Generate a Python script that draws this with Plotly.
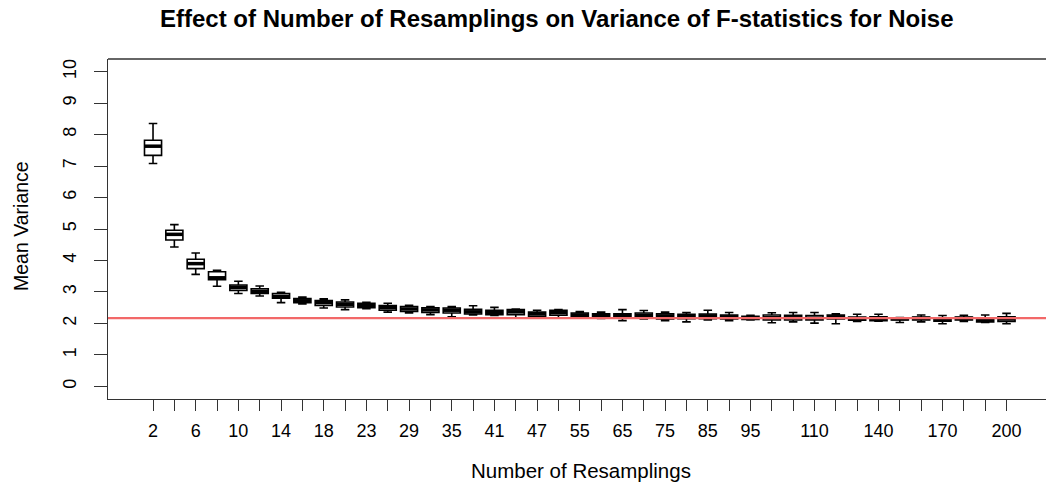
import plotly.graph_objects as go

# ---------------- data ----------------
resamplings = [2, 4, 6, 8, 10, 12, 14, 16, 18, 20,
               23, 26, 29, 32, 35, 38, 41, 44, 47, 50,
               55, 60, 65, 70, 75, 80, 85, 90, 95, 100,
               105, 110, 120, 130, 140, 150, 160, 170, 180, 190, 200]
shown_labels = [2, 6, 10, 14, 18, 23, 29, 35, 41, 47, 55, 65, 75, 85, 95, 110, 140, 170, 200]

whisker_low = [7.08, 4.43, 3.56, 3.18, 2.95, 2.87, 2.66, 2.62, 2.49, 2.44,
               2.47, 2.36, 2.33, 2.28, 2.21, 2.27, 2.25, 2.17, 2.18, 2.17,
               2.17, 2.16, 2.09, 2.14, 2.09, 2.05, 2.11, 2.09, 2.11, 2.02,
               2.05, 2.01, 1.99, 2.06, 2.07, 2.03, 2.05, 1.99, 2.06, 2.03, 1.99]
q1 = [7.34, 4.65, 3.74, 3.39, 3.05, 2.95, 2.80, 2.66, 2.57, 2.52,
      2.50, 2.42, 2.38, 2.35, 2.33, 2.30, 2.28, 2.28, 2.22, 2.26,
      2.21, 2.19, 2.17, 2.18, 2.14, 2.15, 2.15, 2.14, 2.13, 2.11,
      2.11, 2.11, 2.14, 2.10, 2.09, 2.11, 2.11, 2.07, 2.11, 2.05, 2.06]
median = [7.63, 4.83, 3.90, 3.45, 3.15, 3.02, 2.86, 2.72, 2.66, 2.61,
          2.57, 2.50, 2.46, 2.43, 2.42, 2.37, 2.34, 2.37, 2.30, 2.34,
          2.27, 2.26, 2.25, 2.26, 2.24, 2.22, 2.24, 2.21, 2.17, 2.18,
          2.18, 2.17, 2.21, 2.15, 2.15, 2.15, 2.16, 2.13, 2.16, 2.11, 2.14]
q3 = [7.82, 4.96, 4.04, 3.64, 3.22, 3.10, 2.95, 2.79, 2.73, 2.68,
      2.64, 2.57, 2.54, 2.50, 2.49, 2.45, 2.42, 2.44, 2.36, 2.42,
      2.33, 2.31, 2.31, 2.33, 2.31, 2.29, 2.30, 2.27, 2.23, 2.27,
      2.26, 2.25, 2.27, 2.20, 2.21, 2.18, 2.20, 2.18, 2.20, 2.18, 2.21]
whisker_high = [8.35, 5.14, 4.24, 3.69, 3.34, 3.19, 2.99, 2.84, 2.78, 2.75,
                2.67, 2.64, 2.58, 2.54, 2.54, 2.56, 2.51, 2.46, 2.42, 2.44,
                2.38, 2.36, 2.44, 2.41, 2.36, 2.35, 2.42, 2.35, 2.26, 2.34,
                2.35, 2.35, 2.31, 2.29, 2.29, 2.19, 2.27, 2.25, 2.26, 2.27, 2.32]
reference_level = 2.17

title_text = "Effect of Number of Resamplings on Variance of F-statistics for Noise"
x_title = "Number of Resamplings"
y_title = "Mean Variance"

# ---------------- figure ----------------
W, H = 1046, 483
ML, MR, MT, MB = 108, 0, 59, 84
FONT = "Liberation Sans, Arial, Helvetica, sans-serif"

pos = list(range(len(resamplings)))
ticktext = [str(v) if v in shown_labels else "" for v in resamplings]

fig = go.Figure()
fig.add_trace(go.Box(
    x=pos, q1=q1, median=median, q3=q3,
    lowerfence=whisker_low, upperfence=whisker_high,
    width=0.8, whiskerwidth=0.5, boxpoints=False,
    fillcolor="white", line=dict(color="black", width=1.6),
    showlegend=False, hoverinfo="skip",
))

# thick median bars (R style)
mx, my = [], []
for p, m in zip(pos, median):
    mx += [p - 0.4, p + 0.4, None]
    my += [m, m, None]
fig.add_trace(go.Scatter(x=mx, y=my, mode="lines",
                         line=dict(color="black", width=3.5),
                         showlegend=False, hoverinfo="skip"))

# horizontal reference line
fig.add_shape(type="line", xref="paper", x0=0, x1=1, yref="y",
              y0=reference_level, y1=reference_level,
              line=dict(color="#F26868", width=2.4), layer="above")
# top frame line
fig.add_shape(type="line", xref="paper", yref="paper", x0=0, x1=1, y0=1, y1=1,
              line=dict(color="#333333", width=1.3), layer="above")

fig.update_xaxes(
    range=[-2.11, 41.85], tickmode="array", tickvals=pos, ticktext=ticktext,
    ticks="outside", ticklen=11, tickwidth=1.2, tickcolor="#333333",
    showline=True, linecolor="#333333", linewidth=1.3,
    showgrid=False, zeroline=False,
    tickfont=dict(family=FONT, size=18, color="black"),
    ticklabelstandoff=4,
)
fig.update_yaxes(
    range=[-0.4, 10.4], tickmode="array", tickvals=list(range(11)),
    ticktext=[str(v) for v in range(11)], tickangle=-90,
    ticks="outside", ticklen=13, tickwidth=1.2, tickcolor="#333333",
    showline=True, linecolor="#333333", linewidth=1.3,
    showgrid=False, zeroline=False,
    tickfont=dict(family=FONT, size=18, color="black"),
    ticklabelstandoff=11,
)

pw = W - ML - MR
ph = H - MT - MB
def px_x(x):
    return (x - ML) / pw
def px_y(y):
    return (H - MB - y) / ph

fig.update_layout(
    width=W, height=H,
    margin=dict(l=ML, r=MR, t=MT, b=MB, pad=0),
    paper_bgcolor="white", plot_bgcolor="white",
    annotations=[
        dict(text="<b>" + title_text + "</b>", xref="paper", yref="paper",
             x=px_x(557), y=px_y(19), xanchor="center", yanchor="middle",
             showarrow=False, font=dict(family=FONT, size=24, color="black")),
        dict(text=x_title, xref="paper", yref="paper",
             x=px_x(581), y=px_y(470), xanchor="center", yanchor="middle",
             showarrow=False, font=dict(family=FONT, size=20.5, color="black")),
        dict(text=y_title, xref="paper", yref="paper", textangle=-90,
             x=px_x(21), y=px_y(226), xanchor="center", yanchor="middle",
             showarrow=False, font=dict(family=FONT, size=19.5, color="black")),
    ],
)

fig.write_html("out.html")
